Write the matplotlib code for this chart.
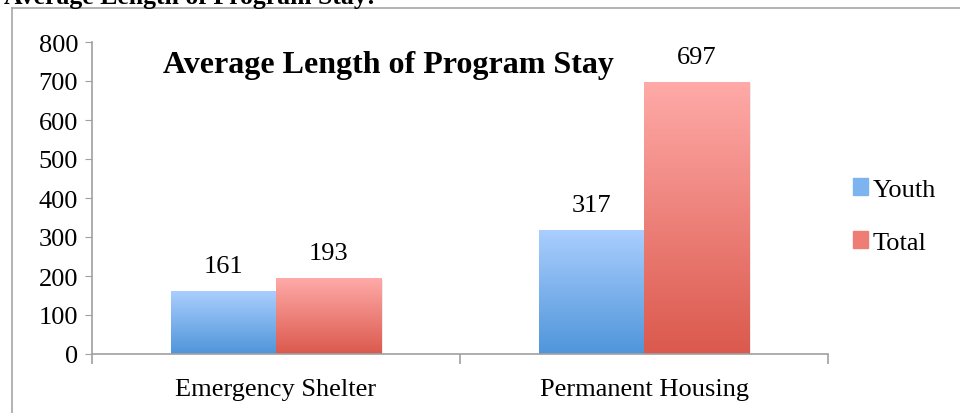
import numpy as np
import matplotlib.pyplot as plt
from matplotlib.colors import LinearSegmentedColormap
from matplotlib.patches import Rectangle
from matplotlib.lines import Line2D

# data
categories = ["Emergency Shelter", "Permanent Housing"]
series_names = ["Youth", "Total"]
youth = [161, 317]
total = [193, 697]
y_ticks = [0, 100, 200, 300, 400, 500, 600, 700, 800]

title = "Average Length of Program Stay"
header = "Average Length of Program Stay:"

# gradient colours (top, bottom)
blue_top, blue_bot = "#aacefe", "#4f95da"
red_top, red_bot = "#ffaaa8", "#db594d"

plt.rcParams['font.family'] = ['Liberation Serif', 'DejaVu Serif']

fig = plt.figure(figsize=(9.6, 4.14), dpi=100)
ax = fig.add_axes([92 / 960, 1 - 355 / 414, (828 - 92) / 960, (355 - 43) / 414])

bar_w = 0.286
x = np.arange(len(categories))


def grad_bar(ax, x0, h, top, bot):
    cmap = LinearSegmentedColormap.from_list("g", [bot, top])
    grad = np.linspace(0, 1, 256).reshape(-1, 1)
    # soft shadow on right side
    ax.add_patch(Rectangle((x0 + 0.006, -2), bar_w, h, color="#000000",
                           alpha=0.08, lw=0, zorder=1))
    ax.imshow(grad, extent=[x0, x0 + bar_w, 0, h], origin="lower",
              aspect="auto", cmap=cmap, zorder=2)


for i in range(len(categories)):
    grad_bar(ax, x[i] - bar_w, youth[i], blue_top, blue_bot)
    grad_bar(ax, x[i], total[i], red_top, red_bot)
    ax.annotate(str(youth[i]), (x[i] - bar_w / 2, youth[i]), xytext=(0, 14),
                textcoords="offset points", ha="center", va="baseline", fontsize=19)
    ax.annotate(str(total[i]), (x[i] + bar_w / 2, total[i]), xytext=(0, 14),
                textcoords="offset points", ha="center", va="baseline", fontsize=19)

ax.set_xlim(-0.5, len(categories) - 0.5)
ax.set_ylim(0, 800)
ax.set_yticks(y_ticks)
ax.set_xticks(x)
ax.set_xticklabels(categories)
ax.set_xticks(np.arange(len(categories) + 1) - 0.5, minor=True)

for s in ["top", "right"]:
    ax.spines[s].set_visible(False)
for s in ["left", "bottom"]:
    ax.spines[s].set_color("#a0a0a0")
    ax.spines[s].set_linewidth(1.2)
    ax.spines[s].set_zorder(3)

ax.tick_params(axis="y", labelsize=19, length=5, color="#a0a0a0", pad=5)
ax.tick_params(axis="x", which="major", labelsize=19, length=0, pad=17)
ax.tick_params(axis="x", which="minor", length=7, color="#a0a0a0", width=1.2)

fig.text(163 / 960, 1 - 65 / 414, title, fontsize=23, fontweight="bold",
         ha="left", va="center")

# legend
handles = [Rectangle((0, 0), 1, 1, color="#7db3ee"),
           Rectangle((0, 0), 1, 1, color="#ee7d75")]
fig.legend(handles, series_names, loc="center left",
           bbox_to_anchor=(842 / 960, 1 - 217 / 414), frameon=False,
           fontsize=19, handlelength=0.6, handleheight=0.6, handletextpad=0.15,
           labelspacing=1.15, borderaxespad=0)

# outer border of the chart (clipped by the picture)
fig.add_artist(Line2D([12 / 960, 12 / 960], [0, 1 - 9 / 414], color="#a6a6a6", lw=1.2))
fig.add_artist(Line2D([12 / 960, 1], [1 - 9 / 414, 1 - 9 / 414], color="#a6a6a6", lw=1.2))

# cut-off heading above the chart
fig.text(4 / 960, 1 - 4 / 414, header, fontsize=18.5, fontweight="bold",
         ha="left", va="baseline")

fig.savefig("out.png", dpi=100)
